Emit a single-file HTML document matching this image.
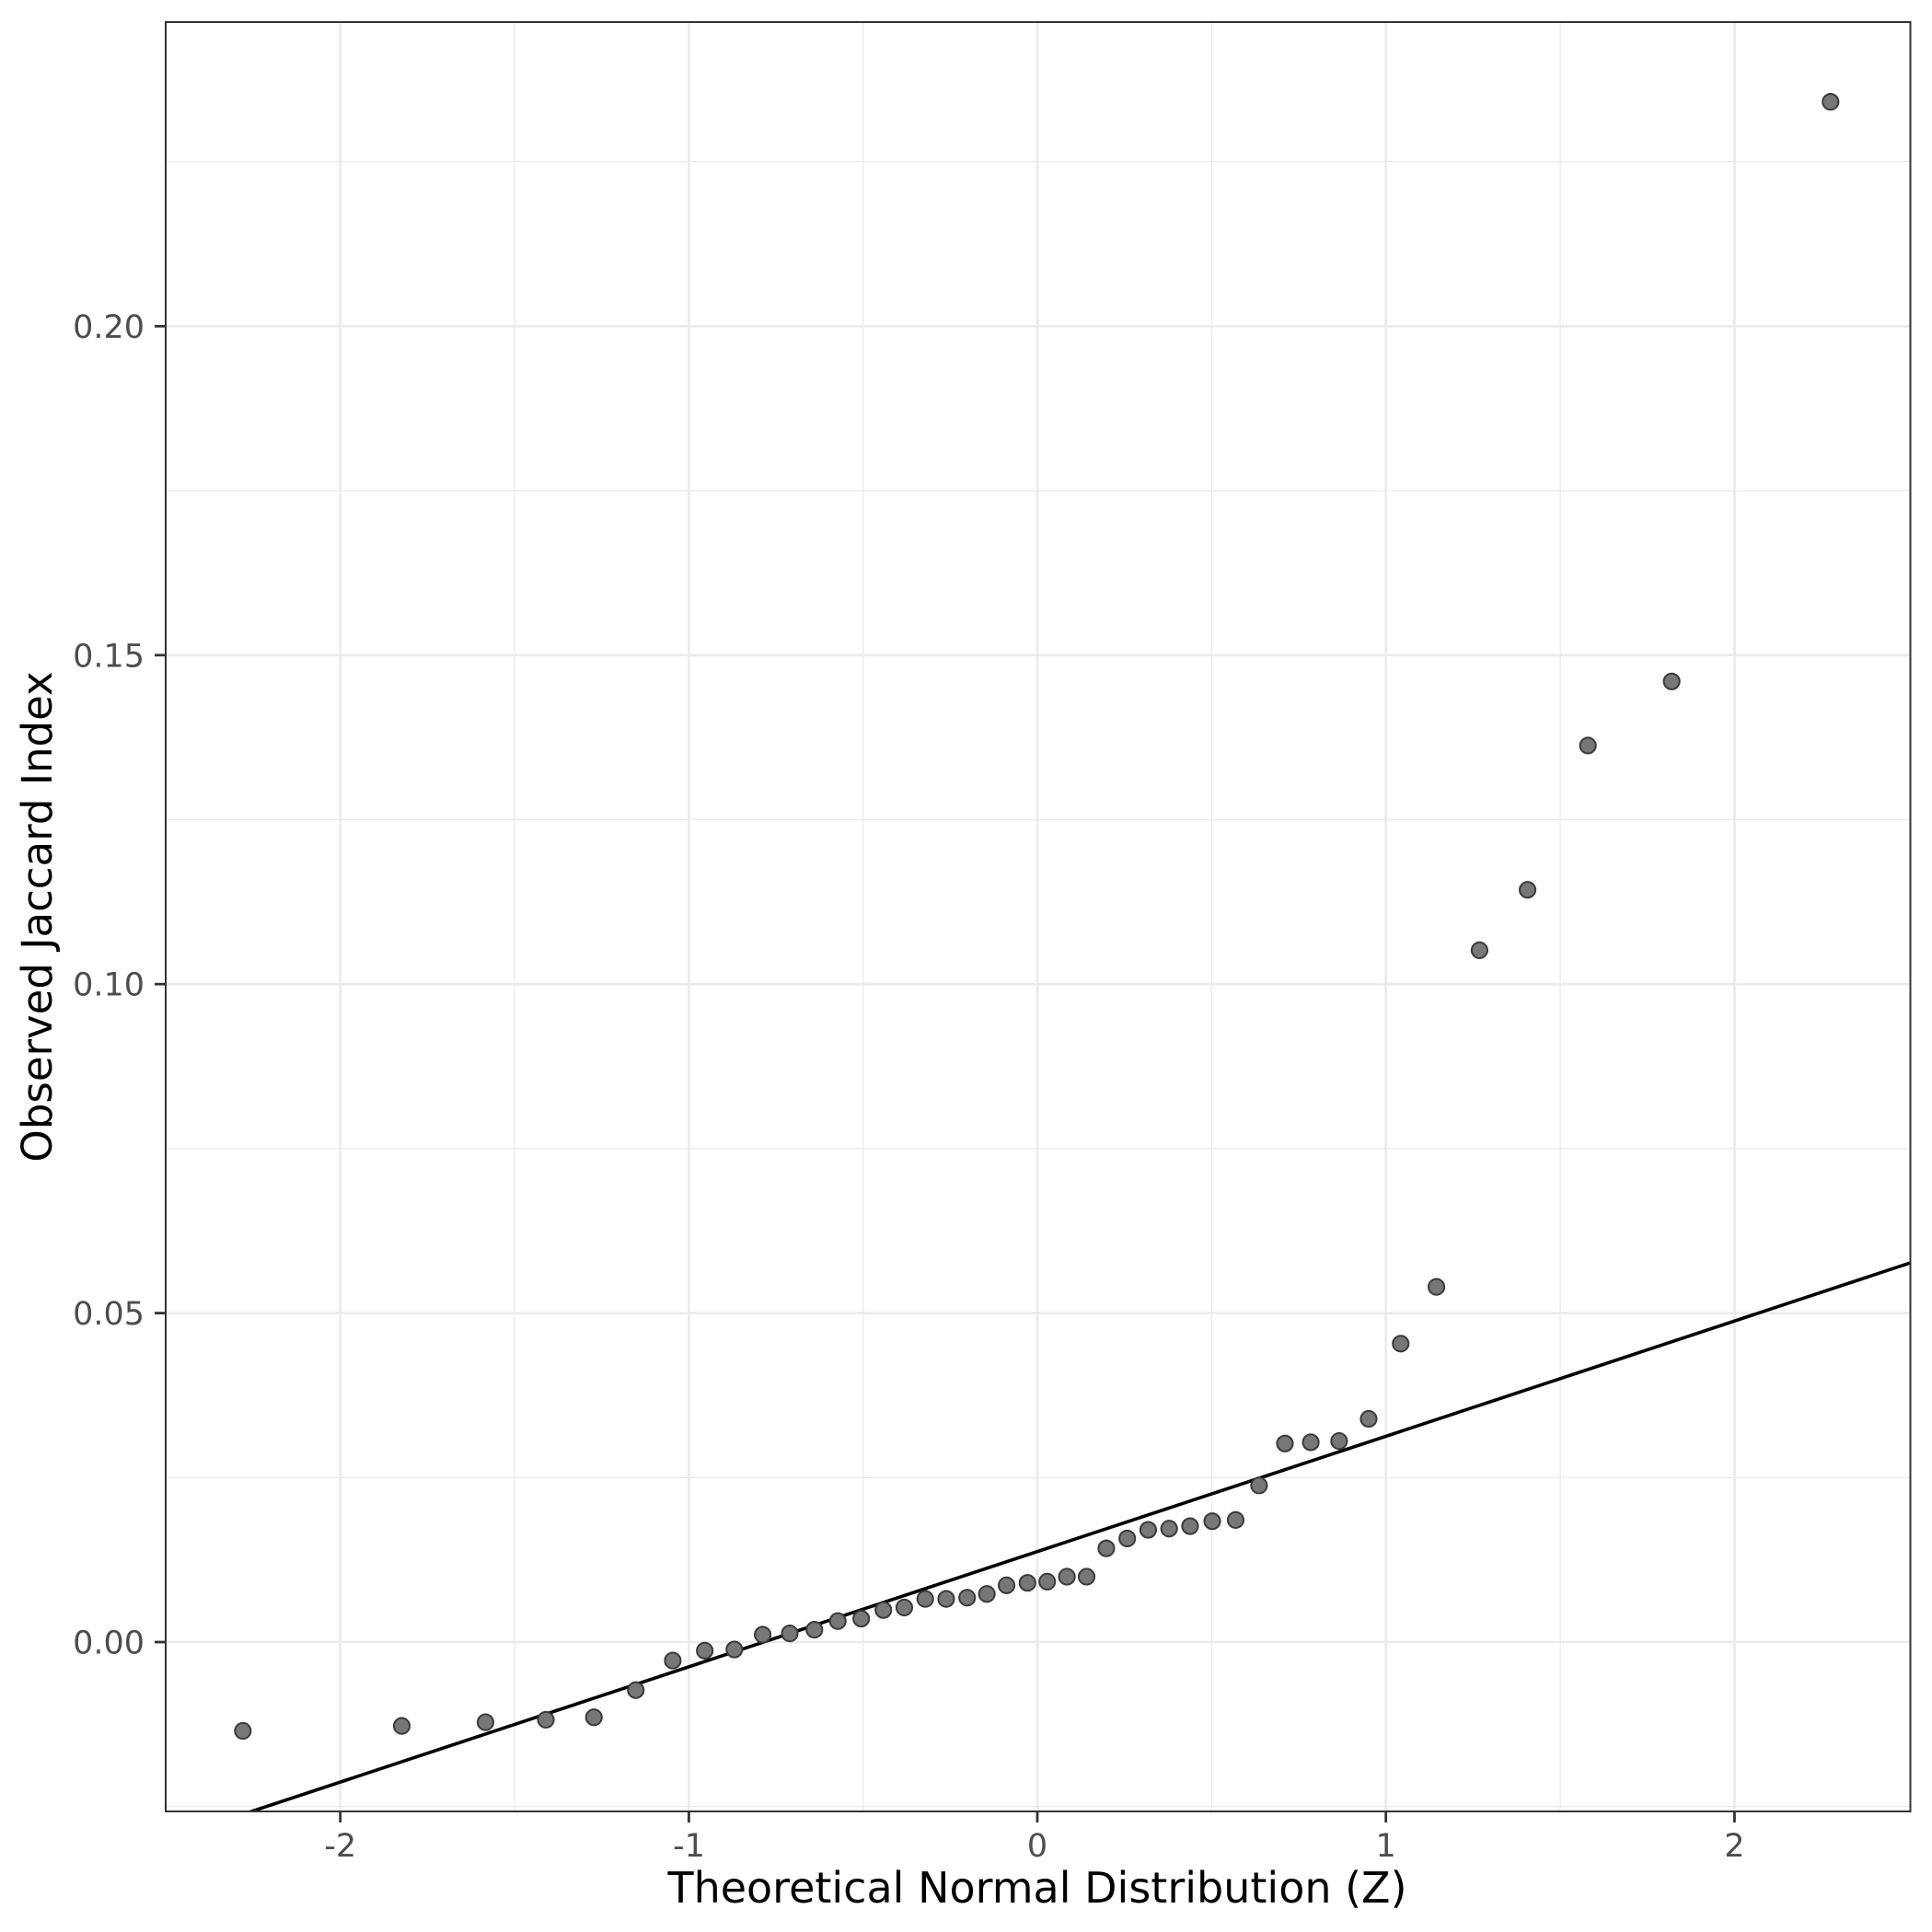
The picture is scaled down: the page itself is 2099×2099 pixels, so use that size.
<!DOCTYPE html>
<html><head><meta charset="utf-8"><style>html,body{margin:0;padding:0;background:#fff}svg{display:block}</style></head>
<body>
<svg width="2099" height="2099" viewBox="0 0 2099 2099" xmlns="http://www.w3.org/2000/svg" font-family="DejaVu Sans, Liberation Sans, sans-serif">
<defs><clipPath id="c"><rect x="180" y="24" width="1895.5" height="1944"/></clipPath></defs>
<rect x="180" y="24" width="1895.5" height="1944" fill="#fff"/>
<g stroke="#ebebeb" stroke-width="1.4">
<line x1="180" x2="2075.5" y1="1962.7" y2="1962.7"/><line x1="180" x2="2075.5" y1="1605.3" y2="1605.3"/><line x1="180" x2="2075.5" y1="1247.9" y2="1247.9"/><line x1="180" x2="2075.5" y1="890.5" y2="890.5"/><line x1="180" x2="2075.5" y1="533.1" y2="533.1"/><line x1="180" x2="2075.5" y1="175.7" y2="175.7"/>
<line y1="24" y2="1968" x1="559" x2="559"/><line y1="24" y2="1968" x1="937.7" x2="937.7"/><line y1="24" y2="1968" x1="1316.4" x2="1316.4"/><line y1="24" y2="1968" x1="1695.1" x2="1695.1"/>
</g>
<g stroke="#ebebeb" stroke-width="2.8">
<line x1="180" x2="2075.5" y1="1784" y2="1784"/><line x1="180" x2="2075.5" y1="1426.6" y2="1426.6"/><line x1="180" x2="2075.5" y1="1069.2" y2="1069.2"/><line x1="180" x2="2075.5" y1="711.8" y2="711.8"/><line x1="180" x2="2075.5" y1="354.4" y2="354.4"/>
<line y1="24" y2="1968" x1="369.7" x2="369.7"/><line y1="24" y2="1968" x1="748.4" x2="748.4"/><line y1="24" y2="1968" x1="1127" x2="1127"/><line y1="24" y2="1968" x1="1505.7" x2="1505.7"/><line y1="24" y2="1968" x1="1884.4" x2="1884.4"/>
</g>
<g clip-path="url(#c)">
<line x1="250" y1="1975.7" x2="2100" y2="1363.9" stroke="#000" stroke-width="3.6"/>
<g transform="matrix(1.3382 0 0 1.3398 0.24 -0.61)" fill="#777" stroke="#3a3a3a" stroke-width="1.5">
<circle cx="197" cy="1404" r="6.4"/><circle cx="326" cy="1400" r="6.4"/><circle cx="394" cy="1397" r="6.4"/><circle cx="443" cy="1395" r="6.4"/><circle cx="482" cy="1393" r="6.4"/><circle cx="516" cy="1371" r="6.4"/><circle cx="546" cy="1347" r="6.4"/><circle cx="572" cy="1339" r="6.4"/><circle cx="596" cy="1338" r="6.4"/><circle cx="619" cy="1326" r="6.4"/><circle cx="641" cy="1325" r="6.4"/><circle cx="661" cy="1322" r="6.4"/><circle cx="680" cy="1315" r="6.4"/><circle cx="699" cy="1313" r="6.4"/><circle cx="717" cy="1306" r="6.4"/><circle cx="734" cy="1304" r="6.4"/><circle cx="751" cy="1297" r="6.4"/><circle cx="768" cy="1297" r="6.4"/><circle cx="785" cy="1296" r="6.4"/><circle cx="801" cy="1293" r="6.4"/><circle cx="817" cy="1286" r="6.4"/><circle cx="834" cy="1284" r="6.4"/><circle cx="850" cy="1283" r="6.4"/><circle cx="866" cy="1279" r="6.4"/><circle cx="882" cy="1279" r="6.4"/><circle cx="898" cy="1256" r="6.4"/><circle cx="915" cy="1248" r="6.4"/><circle cx="932" cy="1241" r="6.4"/><circle cx="949" cy="1240" r="6.4"/><circle cx="966" cy="1238" r="6.4"/><circle cx="984" cy="1234" r="6.4"/><circle cx="1003" cy="1233" r="6.4"/><circle cx="1022" cy="1205" r="6.4"/><circle cx="1043" cy="1171" r="6.4"/><circle cx="1064" cy="1170" r="6.4"/><circle cx="1087" cy="1169" r="6.4"/><circle cx="1111" cy="1151" r="6.4"/><circle cx="1137" cy="1090" r="6.4"/><circle cx="1166" cy="1044" r="6.4"/><circle cx="1201" cy="771" r="6.4"/><circle cx="1240" cy="722" r="6.4"/><circle cx="1289" cy="605" r="6.4"/><circle cx="1357" cy="553" r="6.4"/><circle cx="1486" cy="83" r="6.4"/>
</g>
</g>
<rect x="180" y="24" width="1895.5" height="1944" fill="none" stroke="#333" stroke-width="2"/>
<g stroke="#333" stroke-width="2.8">
<line x1="168" x2="180" y1="1784" y2="1784"/><line x1="168" x2="180" y1="1426.6" y2="1426.6"/><line x1="168" x2="180" y1="1069.2" y2="1069.2"/><line x1="168" x2="180" y1="711.8" y2="711.8"/><line x1="168" x2="180" y1="354.4" y2="354.4"/>
<line y1="1968" y2="1980" x1="369.7" x2="369.7"/><line y1="1968" y2="1980" x1="748.4" x2="748.4"/><line y1="1968" y2="1980" x1="1127" x2="1127"/><line y1="1968" y2="1980" x1="1505.7" x2="1505.7"/><line y1="1968" y2="1980" x1="1884.4" x2="1884.4"/>
</g>
<g fill="#4d4d4d" font-size="35" text-anchor="end">
<text x="157" y="1796.5">0.00</text><text x="157" y="1439">0.05</text><text x="157" y="1081.7">0.10</text><text x="157" y="724.3">0.15</text><text x="157" y="366.9">0.20</text>
</g>
<g fill="#4d4d4d" font-size="35" text-anchor="middle">
<text x="369.7" y="2017">-2</text><text x="748.4" y="2017">-1</text><text x="1127" y="2017">0</text><text x="1505.7" y="2017">1</text><text x="1884.4" y="2017">2</text>
</g>
<text x="1127" y="2067" font-size="46" text-anchor="middle" fill="#000">Theoretical Normal Distribution (Z)</text>
<text transform="translate(56,996) rotate(-90)" font-size="45" text-anchor="middle" fill="#000">Observed Jaccard Index</text>
</svg>
</body></html>
